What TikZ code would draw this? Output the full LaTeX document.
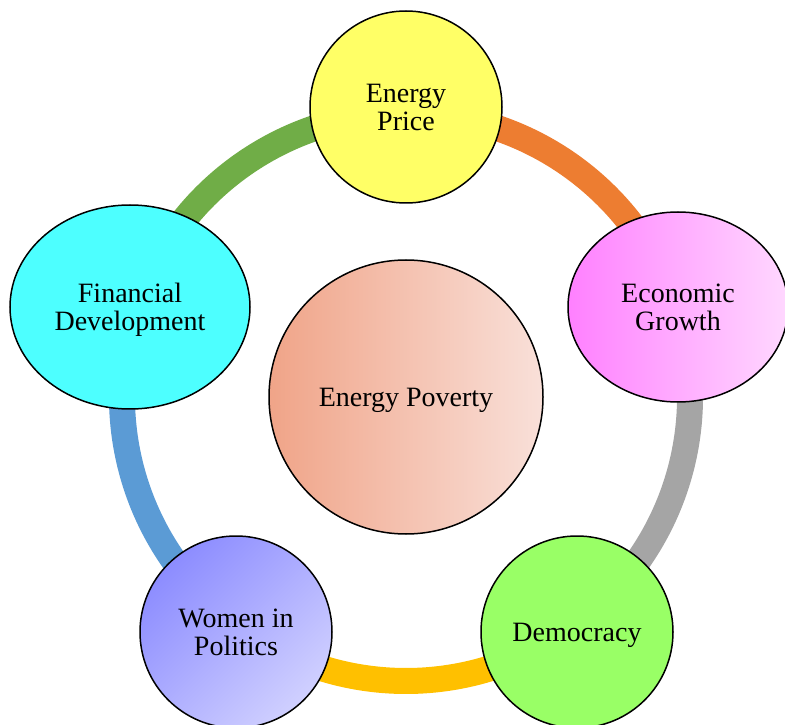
\documentclass[tikz,border=0pt]{standalone}
\usepackage{fontspec}
\setmainfont{Liberation Serif}
\usetikzlibrary{shapes.geometric}
\definecolor{ringorange}{HTML}{ED7D31}
\definecolor{ringgray}{HTML}{A5A5A5}
\definecolor{ringgold}{HTML}{FFC000}
\definecolor{ringblue}{HTML}{5B9BD5}
\definecolor{ringgreen}{HTML}{70AD47}
\definecolor{eprice}{HTML}{FFFF66}
\definecolor{egleft}{HTML}{FF80FF}
\definecolor{egright}{HTML}{FFD8FF}
\definecolor{demo}{HTML}{99FF66}
\definecolor{wpdark}{HTML}{8C8CFF}
\definecolor{wplight}{HTML}{D0D0FF}
\definecolor{fdev}{HTML}{4DFFFF}
\definecolor{povleft}{HTML}{F0A488}
\definecolor{povright}{HTML}{F9E0D9}
\tikzset{
  bubble/.style={draw=black, line width=1.5pt, align=center, inner sep=0pt,
    font=\fontsize{28}{28}\selectfont},
  ringseg/.style={line width=26pt},
  lowtext/.style={text depth=0pt},
}
\begin{document}
\begin{tikzpicture}[x=1pt,y=1pt]
\useasboundingbox (0,0) rectangle (785,724);
\coordinate (c) at (406,327);
% ring segments
\draw[ringseg, ringgreen] (c) ++(162:284) arc[start angle=162, end angle=90, radius=284];
\draw[ringseg, ringorange] (c) ++(90:284) arc[start angle=90, end angle=18, radius=284];
\draw[ringseg, ringgray] (c) ++(18:284) arc[start angle=18, end angle=-54, radius=284];
\draw[ringseg, ringgold] (c) ++(-54:284) arc[start angle=-54, end angle=-126, radius=284];
\draw[ringseg, ringblue] (c) ++(-126:284) arc[start angle=-126, end angle=-198, radius=284];
% nodes
\node[bubble, lowtext, circle, minimum size=274pt, left color=povleft, right color=povright] (pov) at (c) {Energy Poverty};
\node[bubble, circle, minimum size=192pt, fill=eprice] (ep) at (406,617) {Energy\\Price};
\node[bubble, ellipse, minimum width=220pt, minimum height=190pt, left color=egleft, right color=egright] (eg) at (678,417) {Economic\\Growth};
\node[bubble, lowtext, circle, minimum size=192pt, fill=demo] (dem) at (577,92) {Democracy};
\node[bubble, circle, minimum size=192pt, top color=wpdark, bottom color=wplight, shading angle=45] (wp) at (236,92) {Women in\\Politics};
\node[bubble, lowtext, ellipse, minimum width=240pt, minimum height=204pt, fill=fdev] (fd) at (130,417) {Financial\\Development};
\end{tikzpicture}
\end{document}
